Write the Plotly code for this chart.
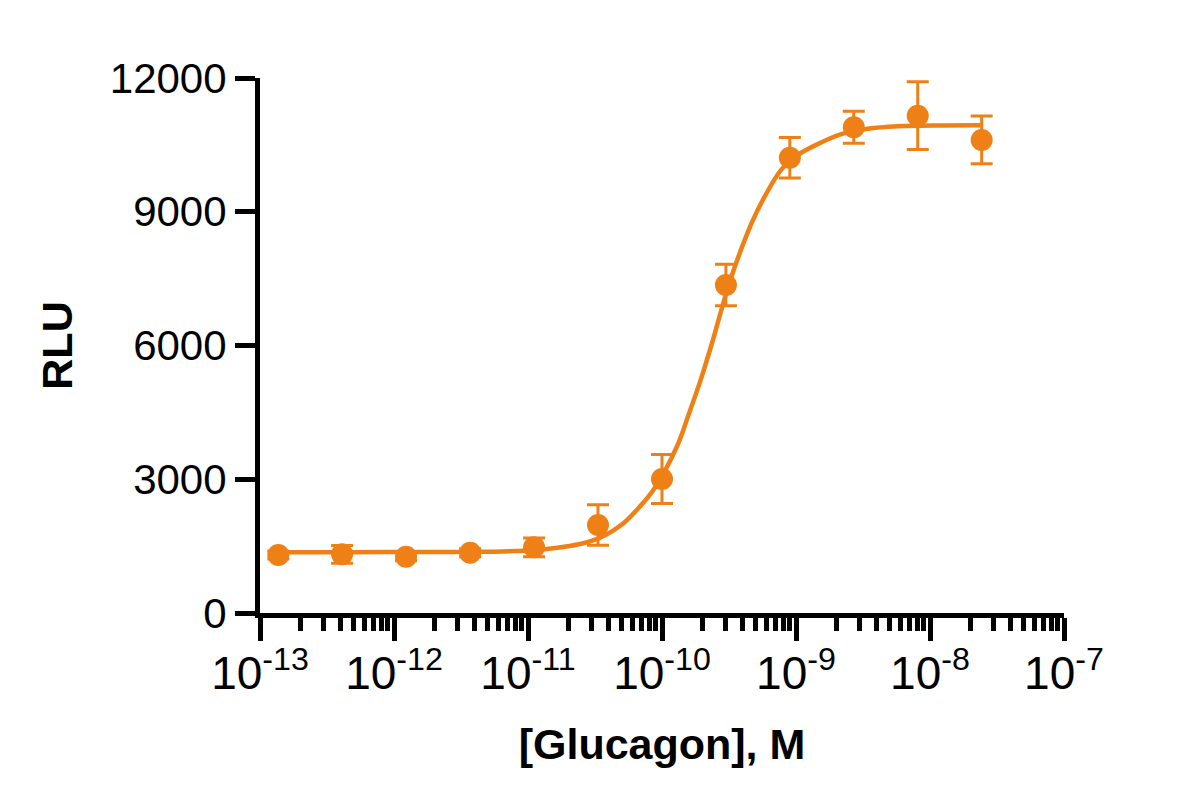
import plotly.graph_objects as go

# Measured data: glucagon concentration (M), mean RLU and error (SD)
conc = [1.37e-13, 4.1e-13, 1.23e-12, 3.7e-12, 1.11e-11, 3.33e-11,
        1.0e-10, 3.0e-10, 9.0e-10, 2.7e-9, 8.1e-9, 2.43e-8]
rlu = [1301, 1316, 1263, 1353, 1473, 1974,
       3006, 7357, 10213, 10895, 11155, 10610]
rlu_err = [90, 200, 90, 90, 210, 455,
           550, 465, 455, 359, 760, 535]

# Fitted curve
fit_conc = [1.47e-13, 4.18e-13, 1.27e-12, 3.87e-12, 1.16e-11, 1.81e-11,
            2.54e-11, 3.58e-11, 5.05e-11, 6.71e-11, 8.67e-11, 1.29e-10,
            1.58e-10, 1.93e-10, 2.36e-10, 3.22e-10, 4.67e-10, 5.86e-10,
            7.80e-10, 1.04e-9, 1.46e-9, 2.18e-9, 3.44e-9, 5.75e-9,
            1.21e-8, 2.39e-8]
fit_rlu = [1362, 1365, 1366, 1370, 1413, 1480,
           1560, 1710, 1990, 2360, 2770, 3730,
           4450, 5200, 6050, 7450, 8750, 9350,
           9950, 10280, 10520, 10740, 10860, 10915,
           10935, 10939]

x_tickvals = [1e-13, 1e-12, 1e-11, 1e-10, 1e-9, 1e-8, 1e-7]
x_ticktext = ["10<sup>-13</sup>", "10<sup>-12</sup>", "10<sup>-11</sup>",
              "10<sup>-10</sup>", "10<sup>-9</sup>", "10<sup>-8</sup>",
              "10<sup>-7</sup>"]
y_ticks = [0, 3000, 6000, 9000, 12000]

ORANGE = "#EE8016"
FONT = "Liberation Sans, Arial, sans-serif"

fig = go.Figure()
fig.add_trace(go.Scatter(
    x=fit_conc, y=fit_rlu, mode="lines",
    line=dict(color=ORANGE, width=4.5, shape="spline", smoothing=1.0),
    hoverinfo="skip", showlegend=False,
))
fig.add_trace(go.Scatter(
    x=conc, y=rlu, mode="markers",
    marker=dict(color=ORANGE, size=22, line=dict(width=0)),
    error_y=dict(type="data", array=rlu_err, visible=True,
                 color=ORANGE, thickness=3, width=11),
    showlegend=False,
))

fig.update_layout(
    width=1200, height=800,
    paper_bgcolor="white", plot_bgcolor="white",
    margin=dict(l=252, r=144, t=70, b=195),
    font=dict(family=FONT, color="black", size=42),
)
fig.update_xaxes(
    type="log", range=[-13, -7],
    tickmode="array", tickvals=x_tickvals, ticktext=x_ticktext,
    showline=True, linecolor="black", linewidth=5,
    ticks="outside", ticklen=23, tickwidth=5, tickcolor="black",
    minor=dict(ticks="outside", ticklen=13, tickwidth=4.5, tickcolor="black",
               dtick="D1", showgrid=False),
    showgrid=False, zeroline=False,
    tickfont=dict(size=46, family=FONT),
    ticklabelstandoff=-7,
    title=dict(text="<b>[Glucagon], M</b>", font=dict(size=43, family=FONT),
               standoff=32),
)
fig.update_yaxes(
    range=[0, 12000], tickvals=y_ticks, ticktext=[str(v) for v in y_ticks],
    showline=True, linecolor="black", linewidth=5,
    ticks="outside", ticklen=20, tickwidth=5, tickcolor="black",
    showgrid=False, zeroline=False,
    tickfont=dict(size=42, family=FONT),
    title=dict(text="<b>RLU</b>", font=dict(size=43, family=FONT),
               standoff=25),
)

fig.write_html("out.html")
